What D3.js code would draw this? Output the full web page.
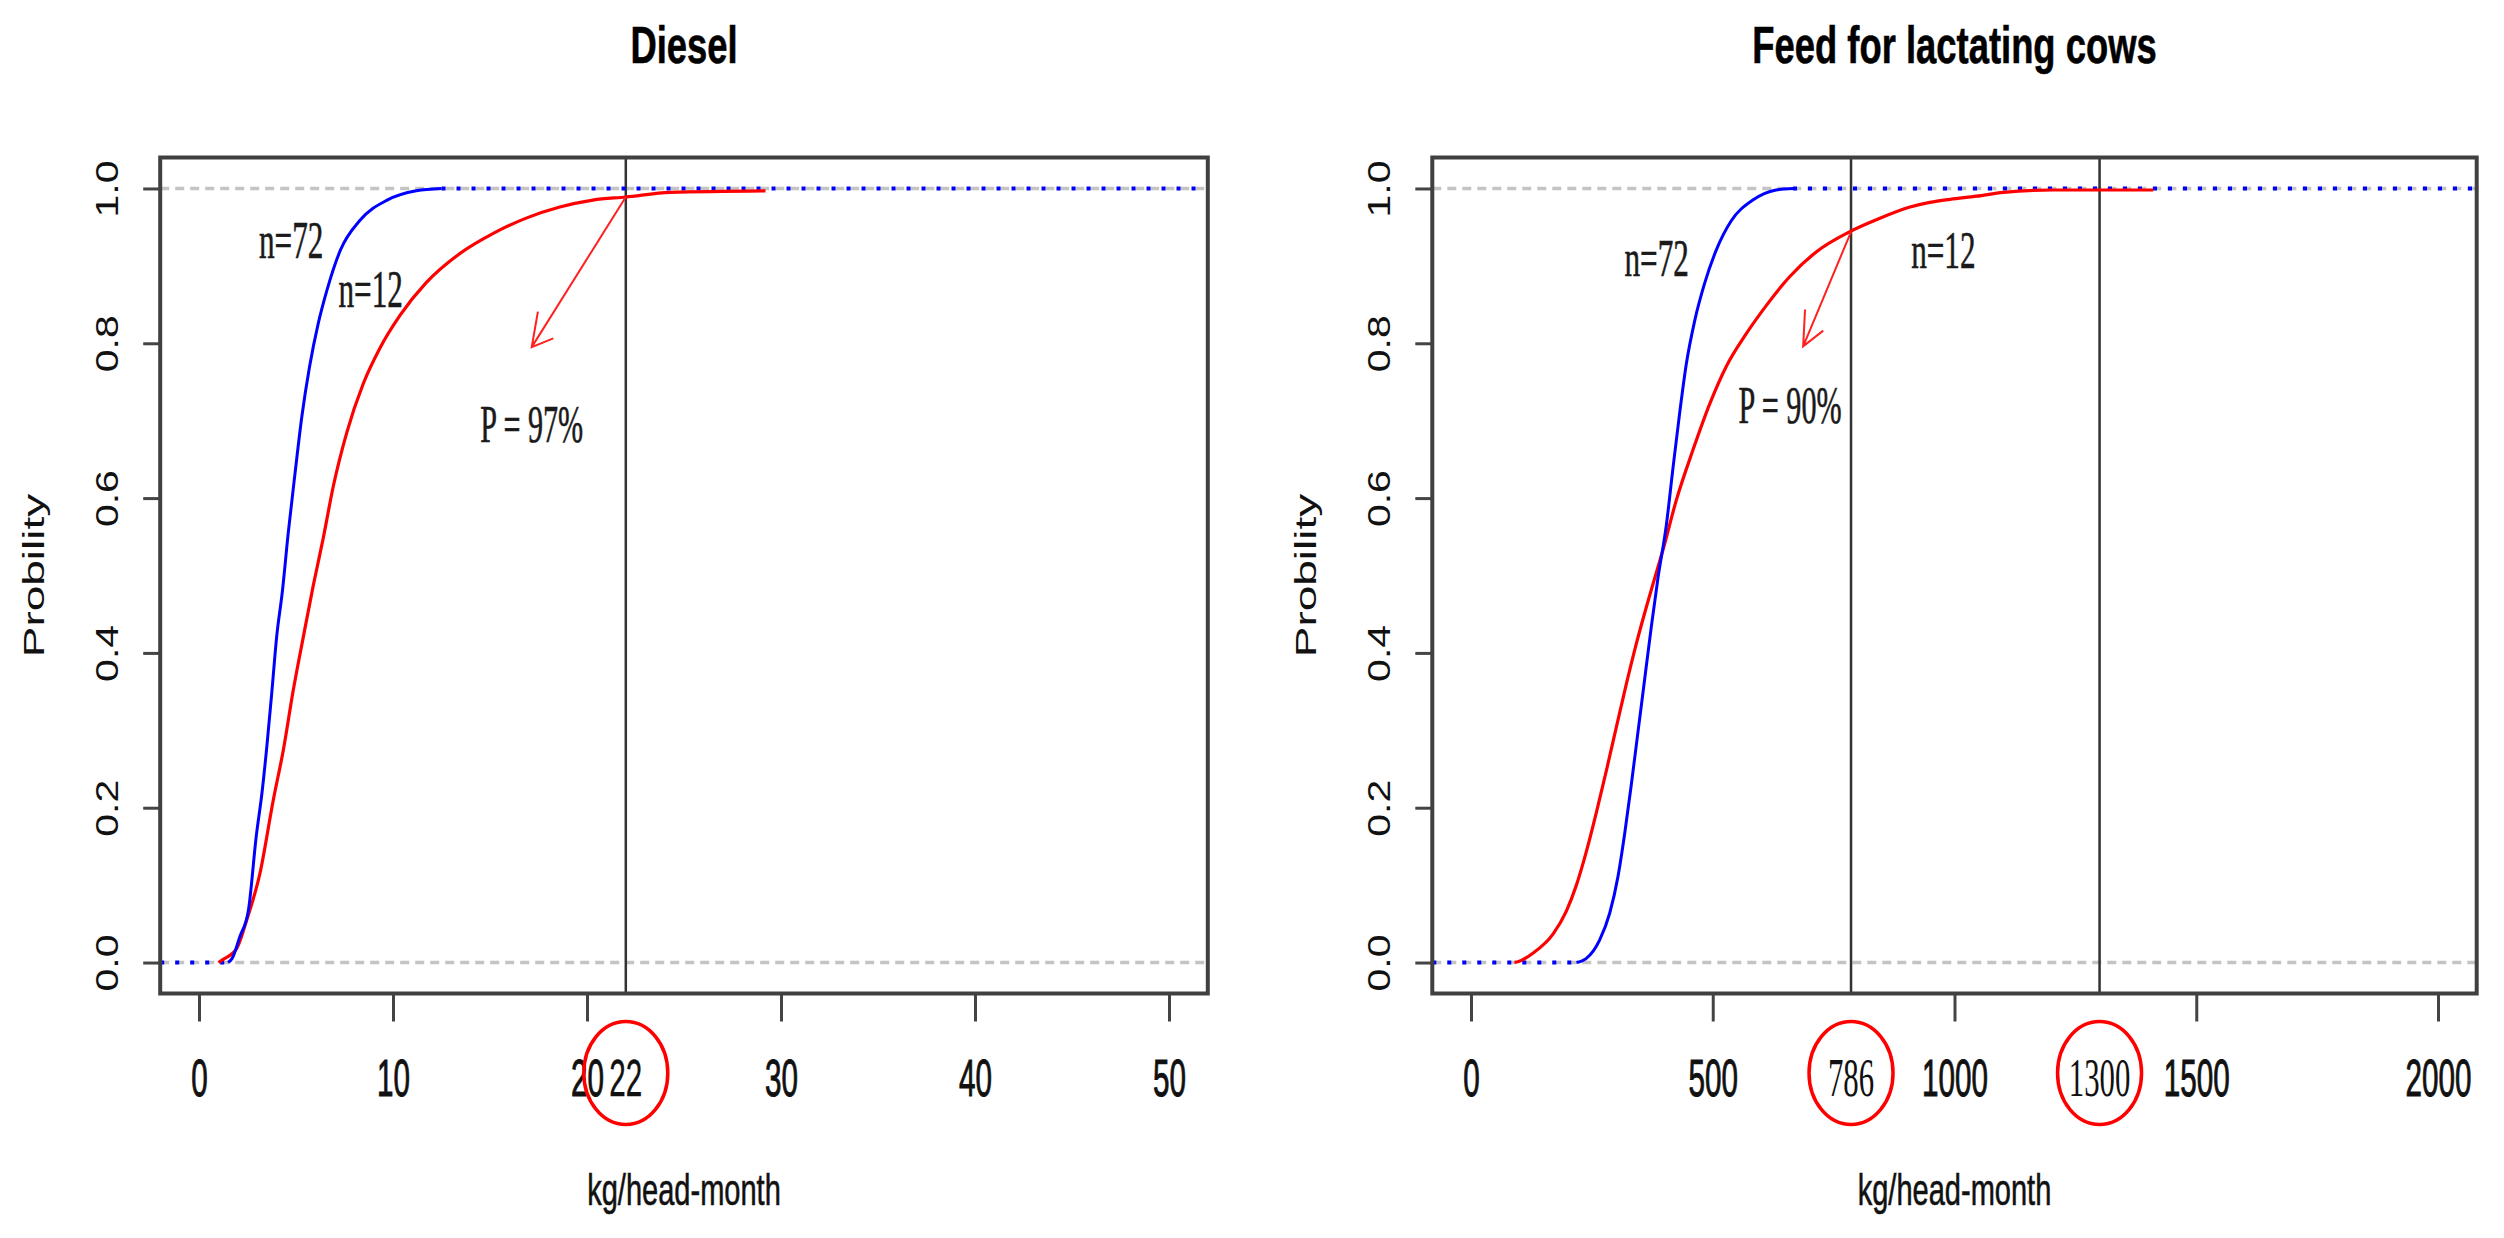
<!DOCTYPE html>
<html>
<head>
<meta charset="utf-8">
<script src="https://cdn.jsdelivr.net/npm/d3@7"></script>
<style>
    body { margin: 0; background: #fff; }
    svg { display: block; }
</style>
</head>
<body>
<svg id="chart" width="2504" height="1238"></svg>
<script>
// values: [kg/head-month, cumulative probability]
const dieselN72 = [[1.5, 0], [1.7, 0.005], [2.1, 0.033], [2.55, 0.068], [2.95, 0.163], [3.25, 0.22], [3.5, 0.28],
    [3.75, 0.348], [4.0, 0.42], [4.3, 0.48], [4.6, 0.555], [4.95, 0.632], [5.3, 0.705], [5.7, 0.77], [6.15, 0.826],
    [6.6, 0.869], [7.3, 0.921], [8.3, 0.959], [9.7, 0.985], [11.2, 0.997], [12.5, 1.0]];
const dieselN12 = [[1.0, 0], [1.17, 0.003], [1.94, 0.018], [2.46, 0.055], [3.14, 0.115], [3.83, 0.21], [4.35, 0.275],
    [4.86, 0.352], [5.38, 0.421], [5.89, 0.487], [6.41, 0.549], [6.92, 0.615], [7.61, 0.684], [8.47, 0.748],
    [9.33, 0.794], [10.36, 0.836], [11.7, 0.878], [13.45, 0.916], [15.17, 0.942], [16.9, 0.962], [18.6, 0.976],
    [20.3, 0.985], [22, 0.989], [24.3, 0.995], [29.2, 0.997]];
const feedN72 = [[218, 0], [238, 0.005], [266, 0.029], [287, 0.064], [304, 0.111], [318, 0.167], [331, 0.227],
    [345, 0.296], [359, 0.365], [373, 0.434], [387, 0.498], [404, 0.565], [418, 0.64], [432, 0.712], [445, 0.772],
    [463, 0.83], [483, 0.877], [507, 0.92], [538, 0.958], [583, 0.985], [631, 0.998], [666, 1.0]];
const feedN12 = [[90, 0], [97, 0.001], [128, 0.012], [170, 0.037], [197, 0.066], [218, 0.1], [238, 0.142],
    [259, 0.193], [280, 0.248], [301, 0.305], [321, 0.359], [342, 0.412], [363, 0.46], [383, 0.503], [397, 0.533],
    [425, 0.598], [459, 0.662], [494, 0.722], [528, 0.77], [569, 0.812], [611, 0.849], [659, 0.886], [714, 0.918],
    [783, 0.944], [840, 0.96], [908, 0.976], [949, 0.982], [991, 0.986], [1046, 0.99], [1101, 0.995],
    [1204, 0.998], [1411, 0.998]];

const dieselTicks = [0, 10, 20, 30, 40, 50];
const feedTicks = [0, 500, 1000, 1500, 2000];
const probTicks = [0, 0.2, 0.4, 0.6, 0.8, 1.0];

const dieselMarks = [22];          // vertical lines + circled labels
const feedMarks = [786, 1300];

// arrows: [x0, p0, x1, p1] and the label under them
const dieselArrow = [22, 0.989, 17.15, 0.795];
const feedArrow = [786, 0.944, 687, 0.796];
const dieselLabels = [{ text: "n=72", x: 4.75, p: 0.91 }, { text: "n=12", x: 8.85, p: 0.847 }, { text: "P = 97%", x: 17.15, p: 0.673 }];
const feedLabels = [{ text: "n=72", x: 384, p: 0.887 }, { text: "n=12", x: 977, p: 0.897 }, { text: "P = 90%", x: 660, p: 0.697 }];

const SANS = "'Liberation Sans', Arial, sans-serif";
const SERIF = "'Liberation Serif', 'Times New Roman', serif";
const svg = d3.select("#chart");

function squeezedText(g, x, y, str, o) {
    return g.append("text")
        .attr("transform", `translate(${x},${y}) scale(${o.sx},1)`)
        .attr("text-anchor", o.anchor || "middle")
        .attr("font-family", o.family || SANS)
        .attr("font-size", o.size)
        .attr("font-weight", o.weight || "normal")
        .attr("fill", o.fill || "#111")
        .attr("stroke", o.stroke ? (o.fill || "#111") : null)
        .attr("stroke-width", o.stroke || null)
        .text(str);
}

function drawPanel(cfg) {
    const g = svg.append("g");
    const x = d3.scaleLinear().domain(cfg.xDomain).range(cfg.xRange);
    const y = d3.scaleLinear().domain([-0.04, 1.04]).range([993.5, 157.5]);
    const [left, right] = cfg.xRange;
    const cx = (left + right) / 2;
    const line = d3.line().x(d => x(d[0])).y(d => y(d[1])).curve(d3.curveMonotoneX);

    // 0 / 1 reference lines
    g.selectAll(".ref").data([0, 1]).enter().append("line")
        .attr("x1", left).attr("x2", right)
        .attr("y1", d => y(d)).attr("y2", d => y(d))
        .attr("stroke", "#c4c4c4").attr("stroke-width", 3.5).attr("stroke-dasharray", "9,6");

    // marked values
    g.selectAll(".mark").data(cfg.marks).enter().append("line")
        .attr("x1", d => x(d)).attr("x2", d => x(d))
        .attr("y1", y.range()[0]).attr("y2", y.range()[1])
        .attr("stroke", "#333").attr("stroke-width", 2.5);

    // n=72 extensions beyond its data range
    const b = cfg.blue;
    g.append("line")
        .attr("x1", left).attr("x2", x(b[0][0])).attr("y1", y(0)).attr("y2", y(0))
        .attr("stroke", "#0000ff").attr("stroke-width", 4).attr("stroke-dasharray", "4,11");
    g.append("line")
        .attr("x1", x(b[b.length - 1][0])).attr("x2", right).attr("y1", y(1)).attr("y2", y(1))
        .attr("stroke", "#0000ff").attr("stroke-width", 4).attr("stroke-dasharray", "4,11");

    g.append("path").datum(cfg.red).attr("d", line)
        .attr("fill", "none").attr("stroke", "#ff0000").attr("stroke-width", 3.2);
    g.append("path").datum(cfg.blue).attr("d", line)
        .attr("fill", "none").attr("stroke", "#0000ff").attr("stroke-width", 3);

    // arrow (R style open head, drawn as if the picture was squeezed horizontally)
    const [ax0, ap0, ax1, ap1] = cfg.arrow;
    const sx0 = x(ax0), sy0 = y(ap0), sx1 = x(ax1), sy1 = y(ap1);
    const squeeze = 0.6, headLen = 37;
    const ang = Math.atan2(sy0 - sy1, (sx0 - sx1) / squeeze);
    const barbs = [ang - Math.PI / 6, ang + Math.PI / 6].map(a =>
        [sx1 + headLen * Math.cos(a) * squeeze, sy1 + headLen * Math.sin(a)]);
    g.append("path")
        .attr("d", `M${sx0},${sy0}L${sx1},${sy1}M${barbs[0][0]},${barbs[0][1]}L${sx1},${sy1}L${barbs[1][0]},${barbs[1][1]}`)
        .attr("fill", "none").attr("stroke", "#ff2020").attr("stroke-width", 2);

    cfg.labels.forEach(l => {
        squeezedText(g, x(l.x), y(l.p), l.text, { size: 52, sx: l.text[0] === "P" ? 0.58 : 0.6, family: SERIF, fill: "#1a1a1a", stroke: 0.6 });
    });

    // axes
    const xAxis = g.append("g").attr("transform", `translate(0,${y.range()[0]})`)
        .call(d3.axisBottom(x).tickValues(cfg.ticks).tickSize(28).tickFormat(d3.format("d")));
    const yAxis = g.append("g").attr("transform", `translate(${left},0)`)
        .call(d3.axisLeft(y).tickValues(probTicks).tickSize(17).tickFormat(d3.format(".1f")));
    [xAxis, yAxis].forEach(a => {
        a.select(".domain").remove();
        a.selectAll(".tick line").attr("stroke", "#444").attr("stroke-width", 3);
    });
    xAxis.selectAll(".tick text")
        .attr("y", 102.5).attr("dy", null)
        .attr("transform", "scale(0.57,1)")
        .attr("font-family", SANS).attr("font-size", 52).attr("fill", "#111")
        .attr("stroke", "#111").attr("stroke-width", 1);
    yAxis.selectAll(".tick text")
        .attr("x", 0).attr("y", 0).attr("dy", null)
        .attr("text-anchor", "middle")
        .attr("transform", "translate(-42,0) rotate(-90) scale(1,0.78)")
        .attr("font-family", SANS).attr("font-size", 41).attr("fill", "#111");

    // circled values under the axis
    cfg.marks.forEach(m => {
        squeezedText(g, x(m), 1096, String(m), { size: cfg.markSize, sx: 0.57, family: cfg.markFamily, fill: "#111", stroke: cfg.markStroke });
        g.append("ellipse").attr("cx", x(m)).attr("cy", 1073).attr("rx", 42).attr("ry", 51.5)
            .attr("fill", "none").attr("stroke", "#ff0000").attr("stroke-width", 3.5);
    });

    // frame
    g.append("rect")
        .attr("x", left).attr("y", y.range()[1])
        .attr("width", right - left).attr("height", y.range()[0] - y.range()[1])
        .attr("fill", "none").attr("stroke", "#404040").attr("stroke-width", 4);

    squeezedText(g, cx, 63, cfg.title, { size: 52, sx: 0.7, weight: "bold", fill: "#000", stroke: 0.6 });
    squeezedText(g, cx, 1205, "kg/head-month", { size: 44, sx: 0.66, fill: "#111", stroke: 0.6 });
    g.append("text")
        .attr("transform", `translate(${left - 116.5},${(y.range()[0] + y.range()[1]) / 2}) rotate(-90) scale(1,0.65)`)
        .attr("text-anchor", "middle")
        .attr("font-family", SANS).attr("font-size", 46).attr("fill", "#111")
        .text("Probility");
}

drawPanel({
    title: "Diesel", xDomain: [-2, 52], xRange: [160.2, 1207.8], ticks: dieselTicks,
    blue: dieselN72, red: dieselN12, marks: dieselMarks, arrow: dieselArrow, labels: dieselLabels,
    markSize: 52, markFamily: SANS, markStroke: 0.4
});
drawPanel({
    title: "Feed for lactating cows", xDomain: [-80, 2080], xRange: [1432.3, 2476.7], ticks: feedTicks,
    blue: feedN72, red: feedN12, marks: feedMarks, arrow: feedArrow, labels: feedLabels,
    markSize: 54, markFamily: SERIF, markStroke: 0
});
</script>
</body>
</html>
